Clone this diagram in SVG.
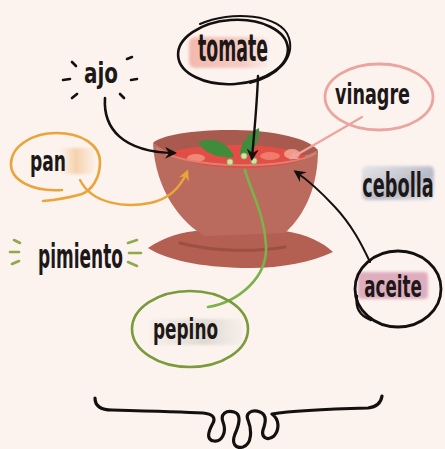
<svg xmlns="http://www.w3.org/2000/svg" width="445" height="449" viewBox="0 0 445 449">
  <defs>
    <style>
      .lbl { font-family: "Liberation Sans Narrow", "DejaVu Sans Condensed", "Liberation Sans", sans-serif; font-weight: bold; fill: #1d1818; }
      .mid { text-anchor: middle; }
      .ring { fill: none; stroke-linecap: round; }
      .wire { fill: none; stroke-linecap: round; }
      .ray { stroke-linecap: round; stroke-width: 2.6; }
      .soft { filter: url(#soften); }
    </style>
    <filter id="soften" x="-10%" y="-30%" width="120%" height="160%">
      <feGaussianBlur stdDeviation="1.8"/>
    </filter>
    <linearGradient id="hlTomate" x1="0" x2="1" y1="0" y2="0">
      <stop offset="0" stop-color="#f0b2a6" stop-opacity="0.9"/>
      <stop offset="0.7" stop-color="#f4c3b8" stop-opacity="0.8"/>
      <stop offset="1" stop-color="#f6d3ca" stop-opacity="0.2"/>
    </linearGradient>
    <linearGradient id="hlPan" x1="0" x2="1" y1="0" y2="0">
      <stop offset="0" stop-color="#f6d8b4" stop-opacity="0"/>
      <stop offset="0.5" stop-color="#f4c89a" stop-opacity="0.8"/>
      <stop offset="1" stop-color="#f7dcbc" stop-opacity="0.3"/>
    </linearGradient>
    <linearGradient id="hlCebolla" x1="0" x2="1" y1="0" y2="1">
      <stop offset="0" stop-color="#d6d8e0" stop-opacity="0.6"/>
      <stop offset="0.6" stop-color="#aeb2c0" stop-opacity="0.9"/>
      <stop offset="1" stop-color="#c9ccd6" stop-opacity="0.5"/>
    </linearGradient>
    <linearGradient id="hlPepino" x1="0" x2="1" y1="0" y2="0">
      <stop offset="0" stop-color="#e2ddd6" stop-opacity="0.2"/>
      <stop offset="0.6" stop-color="#dcd6ce" stop-opacity="0.9"/>
      <stop offset="1" stop-color="#e6e1da" stop-opacity="0.3"/>
    </linearGradient>
    <marker id="tipBlack" viewBox="0 0 12 12" refX="9" refY="6" markerWidth="12" markerHeight="12" markerUnits="userSpaceOnUse" orient="auto">
      <path d="M0,0 L12,6 L0,12 L4,6 Z" fill="#141010"/>
    </marker>
    <marker id="tipOrange" viewBox="0 0 12 12" refX="9" refY="6" markerWidth="11" markerHeight="11" markerUnits="userSpaceOnUse" orient="auto">
      <path d="M0,0 L12,6 L0,12 L4,6 Z" fill="#eba43a"/>
    </marker>
    <marker id="tipPink" viewBox="0 0 12 12" refX="9" refY="6" markerWidth="10" markerHeight="10" markerUnits="userSpaceOnUse" orient="auto">
      <path d="M0,0 L12,6 L0,12 L4,6 Z" fill="#eba59e"/>
    </marker>
  </defs>

  <!-- paper -->
  <rect x="0" y="0" width="445" height="449" fill="#fcf3ef"/>

  <!-- central soup bowl -->
  <g id="bowl">
    <path d="M148,248 C165,236 188,229 210,231 L285,231 C306,234 324,243 333,252 C312,262 282,268 250,268 C210,268 170,262 148,248 Z" fill="#b35f51"/>
    <path d="M180,243 C215,252 255,252 285,247" fill="none" stroke="#9d4f44" stroke-width="3" stroke-linecap="round"/>
    <path d="M153,143 C155,190 182,224 205,236 L285,233 C306,214 318,185 318,150 C300,166 180,170 153,143 Z" fill="#bb6b5d"/>
    <path d="M153,143 C168,127 292,122 318,150 C300,166 180,170 153,143 Z" fill="#a85a4e"/>
    <path d="M170,152 C198,144 280,140 306,157 C292,171 192,174 170,152 Z" fill="#e24d46"/>
    <ellipse cx="196" cy="158" rx="9" ry="4" fill="#f08878"/>
    <ellipse cx="270" cy="156" rx="10" ry="4" fill="#ee7c6c"/>
    <ellipse cx="292" cy="154" rx="8" ry="5" fill="#f09a88"/>
    <path d="M156,148 C185,170 290,170 316,153" fill="none" stroke="#d98273" stroke-width="2"/>
    <path d="M198,143 C211,135 229,142 234,157 C219,159 205,153 198,143 Z" fill="#3f8c3c"/>
    <path d="M240,153 C241,142 249,133 259,128 C261,140 253,152 243,158 Z" fill="#3f8c3c"/>
    <circle cx="230" cy="162" r="3" fill="#cfe4a9" stroke="#9bbf6a" stroke-width="1"/>
    <circle cx="244" cy="156" r="3" fill="#cfe4a9" stroke="#9bbf6a" stroke-width="1"/>
    <circle cx="254" cy="161" r="3" fill="#cfe4a9" stroke="#9bbf6a" stroke-width="1"/>
  </g>

  <!-- connectors -->
  <g id="connectors">
    <path class="wire" d="M258,76 C257,105 254,135 252,158" stroke="#141010" stroke-width="2.4" marker-end="url(#tipBlack)"/>
    <path class="wire" d="M105,98 C103,128 122,152 174,153" stroke="#141010" stroke-width="2.6" marker-end="url(#tipBlack)"/>
    <path class="wire" d="M80,180 C92,204 125,208 150,203 C170,199 181,186 187,172" stroke="#eba43a" stroke-width="2.4" marker-end="url(#tipOrange)"/>
    <path class="wire" d="M362,117 C340,130 314,145 291,158" stroke="#eba59e" stroke-width="2.2" marker-end="url(#tipPink)"/>
    <path class="wire" d="M370,262 C362,245 352,225 334,206 C321,192 309,181 296,172" stroke="#141010" stroke-width="2" marker-end="url(#tipBlack)"/>
    <path class="wire" d="M208,307 C238,302 268,278 266,245 C264,212 250,190 245,170" stroke="#7cb24a" stroke-width="2.6"/>
  </g>

  <!-- ingredient labels -->
  <g id="node-tomate">
    <rect class="soft" x="189" y="37" width="80" height="31" rx="6" fill="url(#hlTomate)"/>
    <ellipse class="ring" cx="233" cy="52" rx="55" ry="32" transform="rotate(-4 233 52)" stroke="#141010" stroke-width="2.6"/>
    <path class="ring" d="M200,24 C230,10 282,14 289,38 C295,58 278,76 250,83" stroke="#141010" stroke-width="2"/>
    <text class="lbl" x="198" y="61" font-size="37" textLength="70" lengthAdjust="spacingAndGlyphs">tomate</text>
  </g>

  <g id="node-ajo">
    <g stroke="#141010" class="ray">
      <line x1="72" y1="62" x2="76" y2="66"/>
      <line x1="63" y1="80" x2="70" y2="79"/>
      <line x1="72" y1="98" x2="77" y2="94"/>
      <line x1="127" y1="59" x2="132" y2="57"/>
      <line x1="131" y1="80" x2="137" y2="79"/>
      <line x1="120" y1="94" x2="124" y2="98"/>
    </g>
    <text class="lbl" x="84" y="83" font-size="29" textLength="34" lengthAdjust="spacingAndGlyphs">ajo</text>
  </g>

  <g id="node-vinagre">
    <ellipse class="ring" cx="379" cy="97" rx="54" ry="33" stroke="#eba59e" stroke-width="2.8"/>
    <text class="lbl" x="335" y="104" font-size="29" textLength="75" lengthAdjust="spacingAndGlyphs">vinagre</text>
  </g>

  <g id="node-pan">
    <rect class="soft" x="58" y="148" width="36" height="26" rx="5" fill="url(#hlPan)"/>
    <path class="ring" d="M62,190 C32,192 10,180 11,163 C12,145 34,133 56,133 C82,133 100,145 100,162 C100,178 92,190 82,194 C68,198 55,200 43,201" stroke="#eba43a" stroke-width="2.6"/>
    <text class="lbl" x="30" y="171" font-size="28" textLength="36" lengthAdjust="spacingAndGlyphs">pan</text>
  </g>

  <g id="node-cebolla">
    <rect class="soft" x="362" y="166" width="72" height="34" rx="5" fill="url(#hlCebolla)"/>
    <text class="lbl mid" transform="translate(398,197) scale(0.58,1)" font-size="34">cebolla</text>
  </g>

  <g id="node-pimiento">
    <g stroke="#8ea84a" class="ray">
      <line x1="14" y1="240" x2="20" y2="243"/>
      <line x1="10" y1="252" x2="19" y2="252"/>
      <line x1="12" y1="264" x2="19" y2="261"/>
      <line x1="128" y1="243" x2="137" y2="240"/>
      <line x1="129" y1="253" x2="141" y2="253"/>
      <line x1="128" y1="262" x2="137" y2="266"/>
    </g>
    <text class="lbl" x="38" y="268" font-size="33" textLength="85" lengthAdjust="spacingAndGlyphs">pimiento</text>
  </g>

  <g id="node-aceite">
    <rect class="soft" x="358" y="272" width="70" height="27" rx="4" fill="#d9a1b6" opacity="0.85"/>
    <ellipse class="ring" cx="398" cy="289" rx="43" ry="38" stroke="#141010" stroke-width="2.8"/>
    <path class="ring" d="M357,296 C355,308 360,316 371,320" stroke="#141010" stroke-width="2.4"/>
    <text class="lbl mid" transform="translate(393,297) scale(0.62,1)" font-size="30">aceite</text>
  </g>

  <g id="node-pepino">
    <rect class="soft" x="150" y="319" width="92" height="26" rx="5" fill="url(#hlPepino)"/>
    <ellipse class="ring" cx="190" cy="329" rx="58" ry="38" stroke="#7a9a3c" stroke-width="2.6"/>
    <text class="lbl" x="153" y="339" font-size="29" textLength="65" lengthAdjust="spacingAndGlyphs">pepino</text>
  </g>

  <!-- closing flourish -->
  <g id="flourish">
    <path d="M95,398 C95,406 101,410 112,410 C150,411 185,412 203,413 C212,414 216,417 213,423 C208,432 206,440 214,441 C222,442 227,432 223,422 C220,414 226,410 234,412 C242,414 239,425 235,434 C231,444 236,449 243,447 C252,444 252,430 248,420 C245,413 252,409 260,412 C268,415 265,424 263,430 C261,438 268,441 274,436 C280,429 279,419 272,414 C290,411 330,409 368,408 C376,407 381,403 382,396" fill="none" stroke="#141010" stroke-width="3.2" stroke-linecap="round" stroke-linejoin="round"/>
  </g>
</svg>
